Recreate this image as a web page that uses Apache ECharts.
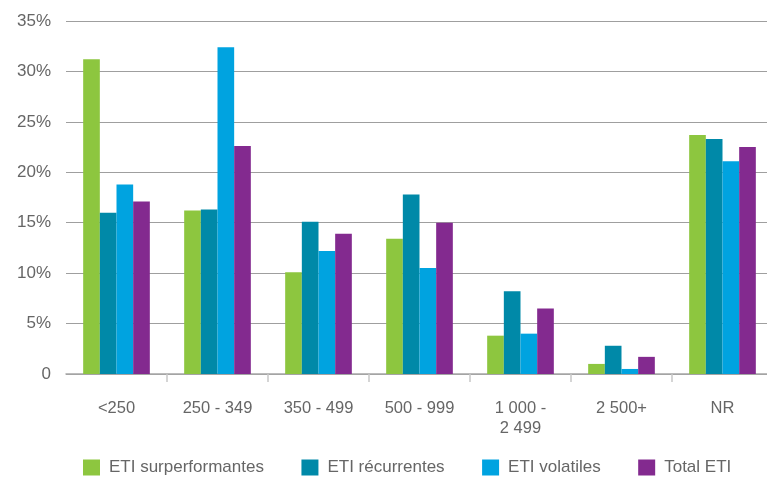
<!DOCTYPE html>
<html>
<head>
<meta charset="utf-8">
<script src="https://cdn.jsdelivr.net/npm/echarts@6/dist/echarts.min.js"></script>
<style>
  html, body { margin: 0; padding: 0; background: #fff; }
  #chart { width: 767px; height: 477px; }
</style>
</head>
<body>
<div id="chart"></div>
<script>
const categories = ['<250', '250 - 349', '350 - 499', '500 - 999', '1 000 -\n2 499', '2 500+', 'NR'];
const seriesNames = ['ETI surperformantes', 'ETI récurrentes', 'ETI volatiles', 'Total ETI'];
const surperformantes = [31.2, 16.2, 10.1, 13.4, 3.8, 1.0, 23.7];
const recurrentes = [16.0, 16.3, 15.1, 17.8, 8.2, 2.8, 23.3];
const volatiles = [18.8, 32.4, 12.2, 10.5, 4.0, 0.5, 21.1];
const totalETI = [17.1, 22.6, 13.9, 15.0, 6.5, 1.7, 22.5];
const yTicks = [0, 5, 10, 15, 20, 25, 30, 35];

const colors = ['#8DC63F', '#0089A8', '#00A3E0', '#832A8F'];
const legendTextWidths = [155, 125, 85, 62];
const allValues = [surperformantes, recurrentes, volatiles, totalETI];

const chart = echarts.init(document.getElementById('chart'));
const fontFamily = 'Liberation Sans, Arial, sans-serif';

chart.setOption({
  animation: false,
  color: colors,
  grid: { left: 66, top: 21, width: 707, height: 353, containLabel: false, outerBoundsMode: 'none' },
  legend: {
    left: 83,
    top: 459,
    padding: 0,
    icon: 'rect',
    itemWidth: 17,
    itemHeight: 16,
    itemGap: 37.5,
    textStyle: { fontFamily: fontFamily, fontSize: 17, color: '#666', padding: [0, 0, 0, 4] },
    data: seriesNames.map((n, i) => ({ name: n, textStyle: { width: legendTextWidths[i] } }))
  },
  xAxis: {
    type: 'category',
    data: categories,
    axisLine: { show: true, lineStyle: { color: '#a6a6a6', width: 1.5 } },
    axisTick: {
      show: true,
      length: 8,
      interval: function (i) { return i !== 0; },
      lineStyle: { color: '#c8c8c8', width: 1.5 }
    },
    axisLabel: {
      fontFamily: fontFamily,
      fontSize: 16.5,
      color: '#666',
      margin: 24,
      lineHeight: 20,
      interval: 0
    }
  },
  yAxis: {
    type: 'value',
    min: 0,
    max: 35,
    interval: 5,
    axisLine: { show: false },
    axisTick: { show: false },
    splitLine: { lineStyle: { color: '#9f9f9f', width: 1.2 } },
    axisLabel: {
      fontFamily: fontFamily,
      fontSize: 17,
      color: '#666',
      margin: 15,
      formatter: function (v) { return yTicks.indexOf(v) === 0 ? '0' : v + '%'; }
    }
  },
  series: seriesNames.map((n, i) => ({
    name: n,
    type: 'bar',
    data: allValues[i],
    barGap: '0%',
    barCategoryGap: '34%',
    itemStyle: { color: colors[i] }
  }))
});
</script>
</body>
</html>
